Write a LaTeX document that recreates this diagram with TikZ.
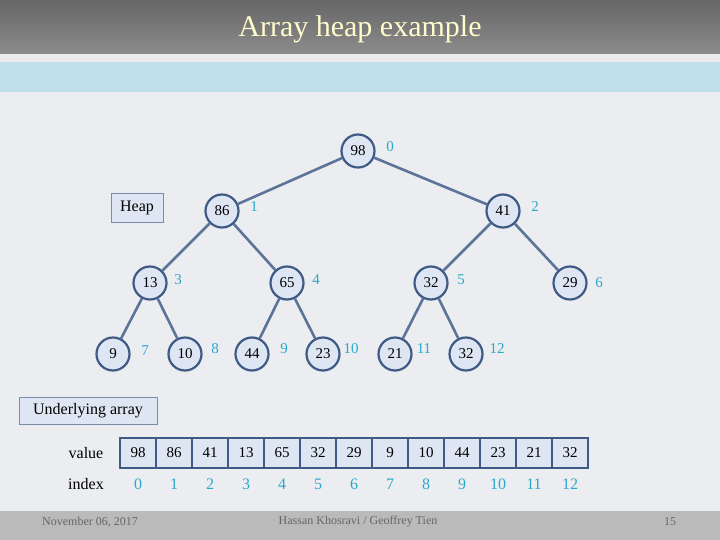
\documentclass[tikz,border=0pt]{standalone}
\usepackage{fontspec}
\setmainfont{Liberation Serif}
\usetikzlibrary{backgrounds}
\begin{document}
\begin{tikzpicture}[x=1pt,y=-1pt,
  hn/.style={circle,draw=edgec,line width=2.2pt,fill=nodef,minimum size=33pt,inner sep=0pt,font=\fontsize{15}{15}\selectfont},
  ix/.style={text=idxc,font=\fontsize{15}{15}\selectfont,inner sep=0pt},
  ed/.style={draw=edgec!85,line width=2.6pt},
  cell/.style={draw=edgec,line width=2.2pt,fill=nodef,minimum width=36pt,minimum height=30pt,inner sep=0pt,font=\fontsize{15}{15}\selectfont},
  lbl/.style={draw=edgec!70,fill=nodef,line width=0.6pt,inner sep=0pt,font=\fontsize{16}{16}\selectfont}]
\definecolor{edgec}{HTML}{3F5B85}
\definecolor{nodef}{HTML}{DDE6F2}
\definecolor{idxc}{HTML}{2AA8CC}
\definecolor{bgc}{HTML}{EBEDF1}
\definecolor{bandc}{HTML}{BFE0EA}
\useasboundingbox (0,0) rectangle (720,540);
\begin{pgfonlayer}{background}
\fill[bgc] (0,0) rectangle (720,540);
\shade[top color=black!60,bottom color=black!45] (0,0) rectangle (720,54);
\fill[white!92!black] (0,54) rectangle (720,62);
\fill[bandc] (0,62) rectangle (720,92);
\fill[black!27] (0,511) rectangle (720,540);
\end{pgfonlayer}
\node[text=yellow!20,font=\fontsize{30}{30}\selectfont] (title) at (360,29) {Array heap example};
% tree
\node[hn] (n0) at (358,151) {98};
\node[hn] (n1) at (222,211) {86};
\node[hn] (n2) at (503,211) {41};
\node[hn] (n3) at (150,283) {13};
\node[hn] (n4) at (287,283) {65};
\node[hn] (n5) at (431,283) {32};
\node[hn] (n6) at (570,283) {29};
\node[hn] (n7) at (113,354) {9};
\node[hn] (n8) at (185,354) {10};
\node[hn] (n9) at (252,354) {44};
\node[hn] (n10) at (323,354) {23};
\node[hn] (n11) at (395,354) {21};
\node[hn] (n12) at (466,354) {32};
\begin{pgfonlayer}{background}
\foreach \a/\b in {n0/n1,n0/n2,n1/n3,n1/n4,n2/n5,n2/n6,n3/n7,n3/n8,n4/n9,n4/n10,n5/n11,n5/n12}
  \draw[ed] (\a) -- (\b);
\end{pgfonlayer}
\foreach \i/\x/\y in {0/390/147,1/254/207,2/535/207,3/178/280,4/316/280,5/461/280,6/599/283,7/145/351,8/215/349,9/284/349,10/351/349,11/424/349,12/497/349}
  \node[ix] (i\i) at (\x,\y) {\i};
\node[lbl,minimum width=52pt,minimum height=29pt] (heap) at (137,208) {Heap};
\node[lbl,minimum width=138pt,minimum height=27pt] (ua) at (88,411) {Underlying array};
% array
\node[font=\fontsize{16}{16}\selectfont] (vl) at (86,453) {value};
\node[font=\fontsize{16}{16}\selectfont] (il) at (86,484) {index};
\foreach \v [count=\k from 0] in {98,86,41,13,65,32,29,9,10,44,23,21,32}{
  \node[cell] (c\k) at (138+36*\k,453) {\v};
  \node[ix,font=\fontsize{16}{16}\selectfont] (a\k) at (138+36*\k,484) {\k};
}
% footer
\node[text=black!60,font=\fontsize{12}{12}\selectfont] (date) at (90,522) {November 06, 2017};
\node[text=black!60,font=\fontsize{12}{12}\selectfont] (auth) at (358,522) {Hassan Khosravi / Geoffrey Tien};
\node[text=black!60,font=\fontsize{12}{12}\selectfont] (pg) at (670,522) {15};
\end{tikzpicture}
\end{document}
